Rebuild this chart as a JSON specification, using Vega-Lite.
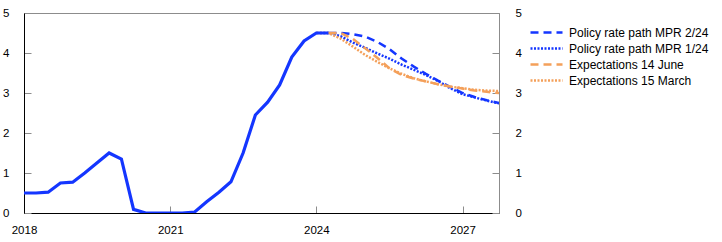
{
  "$schema": "https://vega.github.io/schema/vega-lite/v6.json",
  "width": 475,
  "height": 200,
  "autosize": {"type": "none"},
  "padding": {"left": 24, "top": 13, "right": 223, "bottom": 29},
  "config": {
    "font": "Liberation Sans",
    "view": {"stroke": "#8c8c8c", "strokeWidth": 1},
    "axis": {
      "labelFontSize": 11.5,
      "labelColor": "#000000",
      "tickColor": "#8c8c8c",
      "tickSize": -7,
      "tickWidth": 1,
      "grid": false,
      "title": null,
      "domainWidth": 1
    },
    "legend": {
      "orient": "none",
      "legendX": 513,
      "legendY": 10,
      "symbolType": "M-2,0H2",
      "symbolSize": 256,
      "symbolStrokeWidth": 2.5,
      "labelFontSize": 12,
      "labelColor": "#000000",
      "labelOffset": 13,
      "labelLimit": 300,
      "rowPadding": 0,
      "title": null
    }
  },
  "datasets": {
    "rates": [
      {"date": "2018-01-01", "series": "Policy rate", "value": 0.5},
      {"date": "2018-04-01", "series": "Policy rate", "value": 0.5},
      {"date": "2018-07-01", "series": "Policy rate", "value": 0.52},
      {"date": "2018-10-01", "series": "Policy rate", "value": 0.75},
      {"date": "2019-01-01", "series": "Policy rate", "value": 0.77},
      {"date": "2019-04-01", "series": "Policy rate", "value": 1.0},
      {"date": "2019-07-01", "series": "Policy rate", "value": 1.25},
      {"date": "2019-10-01", "series": "Policy rate", "value": 1.5},
      {"date": "2020-01-01", "series": "Policy rate", "value": 1.35},
      {"date": "2020-04-01", "series": "Policy rate", "value": 0.09},
      {"date": "2020-07-01", "series": "Policy rate", "value": 0.0},
      {"date": "2020-10-01", "series": "Policy rate", "value": 0.0},
      {"date": "2021-01-01", "series": "Policy rate", "value": 0.0},
      {"date": "2021-04-01", "series": "Policy rate", "value": 0.0},
      {"date": "2021-07-01", "series": "Policy rate", "value": 0.02},
      {"date": "2021-10-01", "series": "Policy rate", "value": 0.28},
      {"date": "2022-01-01", "series": "Policy rate", "value": 0.52},
      {"date": "2022-04-01", "series": "Policy rate", "value": 0.78},
      {"date": "2022-07-01", "series": "Policy rate", "value": 1.5},
      {"date": "2022-10-01", "series": "Policy rate", "value": 2.45},
      {"date": "2023-01-01", "series": "Policy rate", "value": 2.77},
      {"date": "2023-04-01", "series": "Policy rate", "value": 3.2},
      {"date": "2023-07-01", "series": "Policy rate", "value": 3.9},
      {"date": "2023-10-01", "series": "Policy rate", "value": 4.3},
      {"date": "2024-01-01", "series": "Policy rate", "value": 4.5},
      {"date": "2024-04-01", "series": "Policy rate", "value": 4.5},

      {"date": "2024-04-01", "series": "Policy rate path MPR 2/24", "value": 4.5},
      {"date": "2024-07-01", "series": "Policy rate path MPR 2/24", "value": 4.5},
      {"date": "2024-10-01", "series": "Policy rate path MPR 2/24", "value": 4.47},
      {"date": "2025-01-01", "series": "Policy rate path MPR 2/24", "value": 4.41},
      {"date": "2025-04-01", "series": "Policy rate path MPR 2/24", "value": 4.28},
      {"date": "2025-07-01", "series": "Policy rate path MPR 2/24", "value": 4.1},
      {"date": "2025-10-01", "series": "Policy rate path MPR 2/24", "value": 3.86},
      {"date": "2026-01-01", "series": "Policy rate path MPR 2/24", "value": 3.66},
      {"date": "2026-04-01", "series": "Policy rate path MPR 2/24", "value": 3.48},
      {"date": "2026-07-01", "series": "Policy rate path MPR 2/24", "value": 3.31},
      {"date": "2026-10-01", "series": "Policy rate path MPR 2/24", "value": 3.15},
      {"date": "2027-01-01", "series": "Policy rate path MPR 2/24", "value": 3.0},
      {"date": "2027-04-01", "series": "Policy rate path MPR 2/24", "value": 2.9},
      {"date": "2027-07-01", "series": "Policy rate path MPR 2/24", "value": 2.82},
      {"date": "2027-10-01", "series": "Policy rate path MPR 2/24", "value": 2.75},

      {"date": "2024-01-01", "series": "Policy rate path MPR 1/24", "value": 4.5},
      {"date": "2024-04-01", "series": "Policy rate path MPR 1/24", "value": 4.5},
      {"date": "2024-07-01", "series": "Policy rate path MPR 1/24", "value": 4.42},
      {"date": "2024-10-01", "series": "Policy rate path MPR 1/24", "value": 4.26},
      {"date": "2025-01-01", "series": "Policy rate path MPR 1/24", "value": 4.13},
      {"date": "2025-04-01", "series": "Policy rate path MPR 1/24", "value": 3.99},
      {"date": "2025-07-01", "series": "Policy rate path MPR 1/24", "value": 3.86},
      {"date": "2025-10-01", "series": "Policy rate path MPR 1/24", "value": 3.71},
      {"date": "2026-01-01", "series": "Policy rate path MPR 1/24", "value": 3.58},
      {"date": "2026-04-01", "series": "Policy rate path MPR 1/24", "value": 3.45},
      {"date": "2026-07-01", "series": "Policy rate path MPR 1/24", "value": 3.3},
      {"date": "2026-10-01", "series": "Policy rate path MPR 1/24", "value": 3.12},
      {"date": "2027-01-01", "series": "Policy rate path MPR 1/24", "value": 2.97},
      {"date": "2027-04-01", "series": "Policy rate path MPR 1/24", "value": 2.89},
      {"date": "2027-07-01", "series": "Policy rate path MPR 1/24", "value": 2.81},
      {"date": "2027-10-01", "series": "Policy rate path MPR 1/24", "value": 2.74},

      {"date": "2024-04-01", "series": "Expectations 14 June", "value": 4.5},
      {"date": "2024-07-01", "series": "Expectations 14 June", "value": 4.5},
      {"date": "2024-10-01", "series": "Expectations 14 June", "value": 4.35},
      {"date": "2025-01-01", "series": "Expectations 14 June", "value": 4.12},
      {"date": "2025-04-01", "series": "Expectations 14 June", "value": 3.88},
      {"date": "2025-07-01", "series": "Expectations 14 June", "value": 3.62},
      {"date": "2025-10-01", "series": "Expectations 14 June", "value": 3.45},
      {"date": "2026-01-01", "series": "Expectations 14 June", "value": 3.36},
      {"date": "2026-04-01", "series": "Expectations 14 June", "value": 3.29},
      {"date": "2026-07-01", "series": "Expectations 14 June", "value": 3.22},
      {"date": "2026-10-01", "series": "Expectations 14 June", "value": 3.16},
      {"date": "2027-01-01", "series": "Expectations 14 June", "value": 3.11},
      {"date": "2027-04-01", "series": "Expectations 14 June", "value": 3.06},
      {"date": "2027-07-01", "series": "Expectations 14 June", "value": 3.03},
      {"date": "2027-10-01", "series": "Expectations 14 June", "value": 3.0},

      {"date": "2024-01-01", "series": "Expectations 15 March", "value": 4.5},
      {"date": "2024-04-01", "series": "Expectations 15 March", "value": 4.5},
      {"date": "2024-07-01", "series": "Expectations 15 March", "value": 4.36},
      {"date": "2024-10-01", "series": "Expectations 15 March", "value": 4.16},
      {"date": "2025-01-01", "series": "Expectations 15 March", "value": 3.95},
      {"date": "2025-04-01", "series": "Expectations 15 March", "value": 3.78},
      {"date": "2025-07-01", "series": "Expectations 15 March", "value": 3.62},
      {"date": "2025-10-01", "series": "Expectations 15 March", "value": 3.48},
      {"date": "2026-01-01", "series": "Expectations 15 March", "value": 3.37},
      {"date": "2026-04-01", "series": "Expectations 15 March", "value": 3.29},
      {"date": "2026-07-01", "series": "Expectations 15 March", "value": 3.22},
      {"date": "2026-10-01", "series": "Expectations 15 March", "value": 3.16},
      {"date": "2027-01-01", "series": "Expectations 15 March", "value": 3.12},
      {"date": "2027-04-01", "series": "Expectations 15 March", "value": 3.08},
      {"date": "2027-07-01", "series": "Expectations 15 March", "value": 3.06},
      {"date": "2027-10-01", "series": "Expectations 15 March", "value": 3.05}
    ]
  },
  "data": {"name": "rates"},
  "layer": [
    {
      "transform": [{"filter": "datum.series !== 'Policy rate'"}],
      "mark": {"type": "line", "strokeWidth": 2.5, "clip": true},
      "encoding": {
        "x": {
          "field": "date",
          "type": "temporal",
          "scale": {"type": "utc", "domain": [{"year": 2018, "month": 1, "date": 1, "utc": true}, {"year": 2027, "month": 10, "date": 1, "utc": true}]},
          "axis": {
            "orient": "bottom",
            "values": [{"year": 2018, "utc": true}, {"year": 2021, "utc": true}, {"year": 2024, "utc": true}, {"year": 2027, "utc": true}],
            "format": "%Y",
            "domainColor": "#000000",
            "labelPadding": 18,
            "labelFlush": false
          }
        },
        "y": {
          "field": "value",
          "type": "quantitative",
          "scale": {"domain": [0, 5]},
          "axis": {"orient": "left", "values": [0, 1, 2, 3, 4, 5], "domainColor": "#000000", "labelPadding": 22}
        },
        "color": {
          "field": "series",
          "type": "nominal",
          "scale": {
            "domain": ["Policy rate path MPR 2/24", "Policy rate path MPR 1/24", "Expectations 14 June", "Expectations 15 March"],
            "range": ["#1436ff", "#1436ff", "#f4a05a", "#f4a05a"]
          }
        },
        "strokeDash": {
          "field": "series",
          "type": "nominal",
          "scale": {
            "domain": ["Policy rate path MPR 2/24", "Policy rate path MPR 1/24", "Expectations 14 June", "Expectations 15 March"],
            "range": [[8, 5], [2, 1.5], [8, 5], [2, 1.5]]
          }
        }
      }
    },
    {
      "transform": [{"filter": "datum.series === 'Policy rate'"}],
      "mark": {"type": "line", "strokeWidth": 3.2, "color": "#1436ff", "clip": true},
      "encoding": {
        "x": {"field": "date", "type": "temporal"},
        "y": {
          "field": "value",
          "type": "quantitative",
          "axis": {"orient": "right", "values": [0, 1, 2, 3, 4, 5], "domainColor": "#8c8c8c", "labelPadding": 23}
        }
      }
    }
  ],
  "resolve": {"axis": {"y": "independent"}}
}
